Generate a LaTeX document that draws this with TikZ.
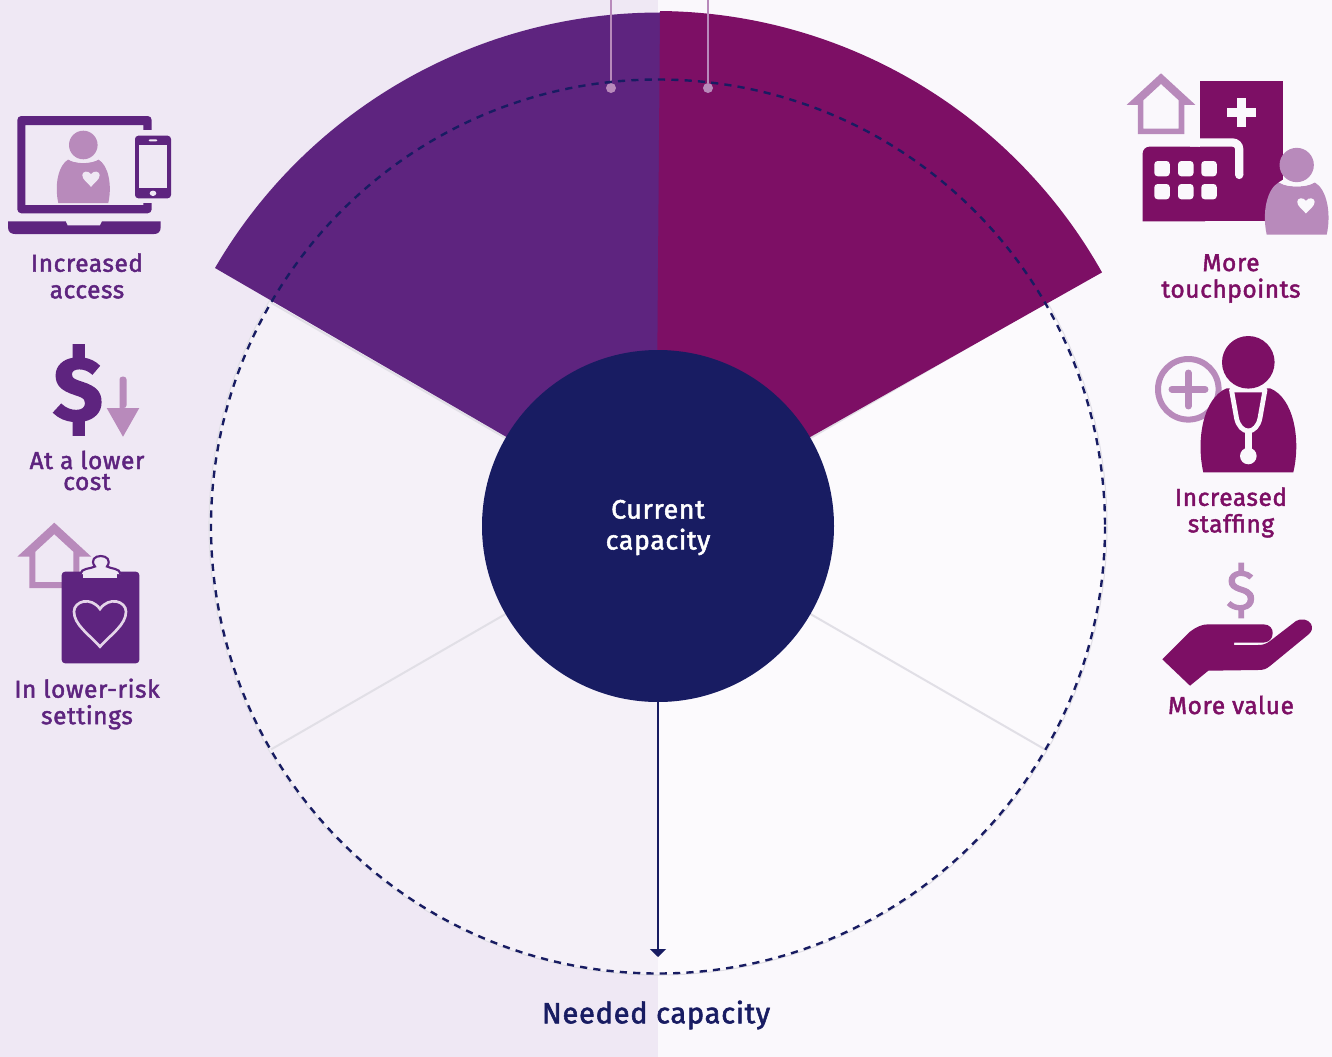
\documentclass[tikz,border=0pt]{standalone}
\usepackage{fontspec}
\setmainfont[RawFeature={embolden=1.9},LetterSpace=2.5]{Fira Sans}
\usetikzlibrary{arrows.meta}

\definecolor{lbg}{HTML}{EFE8F4}
\definecolor{rbg}{HTML}{FAF8FC}
\definecolor{lpurple}{HTML}{5E247F}
\definecolor{rpurple}{HTML}{7D0F65}
\definecolor{pale}{HTML}{B88ABB}
\definecolor{navy}{HTML}{181C62}
\definecolor{spoke}{HTML}{E1DFE6}

\tikzset{
	lefttext/.style={text=lpurple, align=center, font=\fontsize{18.3}{19.9}\selectfont},
	righttext/.style={text=rpurple, align=center, font=\fontsize{18.3}{19.9}\selectfont},
	pics/heart/.style={code={
		\path[pic actions] (0,.95) .. controls (-.45,.45) and (-1,.1) .. (-1,-.4)
			.. controls (-1,-.8) and (-.35,-1) .. (0,-.5)
			.. controls (.35,-1) and (1,-.8) .. (1,-.4)
			.. controls (1,.1) and (.45,.45) .. (0,.95) -- cycle;
	}},
	pics/person/.style={code={
		\fill[pale] (-25,58) .. controls (-29,40) and (-25,20) .. (-15,14.5)
			.. controls (-8,19) and (8,19) .. (15,14.5)
			.. controls (25,20) and (29,40) .. (25,58) -- cycle;
		\fill[#1] (-15,14.5) .. controls (-8,19) and (8,19) .. (15,14.5) -- (0,5) -- cycle;
		\fill[pale] (0,0) circle (14.3);
		\pic[fill=#1, scale=8.7] at (7.7,33.5) {heart};
	}},
	pics/house/.style={code={
		\fill[pale, even odd rule] (0,0) -- (37,34) -- (25,34) -- (25,65.5) -- (-25,65.5) -- (-25,34) -- (-37,34) -- cycle
			(0,11.5) -- (-19,29) -- (-19,59.5) -- (19,59.5) -- (19,29) -- cycle;
	}}
}

\begin{document}
\begin{tikzpicture}[x=0.75pt, y=-0.75pt]
	\useasboundingbox (0,0) rectangle (1332,1057);
	\fill[lbg] (0,0) rectangle (658,1057);
	\fill[rbg] (658,0) rectangle (1332,1057);

	% rings and wedges
	\coordinate (mid) at (658,526);
	\fill[white, opacity=.4] (mid) circle (449);
	\draw[spoke, line width=.8pt] (mid) circle (449);
	\draw[spoke, line width=1.5pt] (mid) -- ++(30:447);
	\draw[spoke, line width=1.5pt] (mid) -- ++(150:447);
	\draw[spoke, line width=1.5pt] (mid) -- ++(210:447);
	\draw[spoke, line width=1.5pt] (mid) -- ++(330:447);
	\draw[spoke, line width=1.5pt] (mid) -- ++(270:447);
	\fill[lpurple] (215,268) arc[start angle=149.8, end angle=90, radius=385.5pt] -- (664,12) -- (664,526) -- (660,526) -- cycle;
	\fill[rpurple] (660,11) arc[start angle=89.5, end angle=29.3, radius=384pt] -- (656,524) -- cycle;

	\coordinate (topa) at (611,0);
	\coordinate (topb) at (708,0);
	\node[circle, fill=pale, inner sep=0pt, minimum size=7.5pt] (dota) at (611,88) {};
	\node[circle, fill=pale, inner sep=0pt, minimum size=7.5pt] (dotb) at (708,88) {};
	\draw[pale, line width=1.8pt] (topa) -- (dota);
	\draw[pale, line width=1.8pt] (topb) -- (dotb);
	\draw[navy, line width=1.8pt, dash pattern=on 5.4pt off 4.6pt] (658,526.5) circle (447);

	\node[circle, fill=navy, inner sep=0pt, minimum size=264pt] (current) at (mid) {};
	\node[text=white, align=center, font=\fontsize{20}{23.2}\selectfont] (currenttext) at (658,527.5) {Current\\capacity};
	\coordinate (tip) at (658,957);
	\draw[navy, line width=1.5pt, -{Triangle[length=6pt, width=12pt]}] (current.south) -- (tip);
	\node[text=navy, font=\fontsize{21.8}{22}\selectfont] (needed) at (656,1015) {Needed capacity};

	% laptop and phone
	\pic at (83.3,145) {person=lbg};
	\fill[lpurple, even odd rule, rounded corners=3pt] (17.3,116) rectangle (151.7,213.3)
		[sharp corners] (25.3,125) rectangle (143.3,205);
	\fill[lbg] (143.3,130) rectangle (162,202.7);
	\fill[lpurple] (8,221.3) -- (65.7,221.3) -- (67.5,225.3) -- (100,225.3) -- (102,221.3) -- (160.7,221.3)
		-- (160.7,227) .. controls (160.7,232) and (158,234) .. (154,234) -- (15,234)
		.. controls (11,234) and (8,232) .. (8,227) -- cycle;
	\fill[lpurple, rounded corners=2.5pt] (135,135.7) rectangle (171,198.3);
	\fill[lbg] (139,145) rectangle (167.3,188.3);
	\fill[lbg, rounded corners=.8pt] (148.7,139.3) rectangle (157.3,141.3);
	\fill[lbg] (153,193.3) ellipse (3.3 and 2.7);
	\node[lefttext] (access) at (87,276) {Increased\\access};

	% dollar and arrow
	\node[text=lpurple, inner sep=0pt, font=\fontsize{68}{68}\selectfont\bfseries] (dollar) at (78,390) {\$};
	\fill[pale, rounded corners=2pt] (119.5,408) -- (119.5,376.7) -- (126.5,376.7) -- (126.5,408) [sharp corners] -- cycle;
	\fill[pale] (106.7,408) -- (139.3,408) -- (123,436.7) -- cycle;
	\node[lefttext, font=\fontsize{18.3}{15.75}\selectfont] (cost) at (87,470.5) {At a lower\\cost};

	% house and clipboard
	\pic at (54.3,522.7) {house};
	\fill[lpurple, rounded corners=2.5pt] (61.7,571.7) rectangle (139.3,663.3);
	\filldraw[lbg, draw=lpurple, line width=1.6pt] (80.5,574) .. controls (81,568) and (90,569) .. (95,566.5)
		.. controls (90,560) and (95,556) .. (100.7,556) .. controls (106.5,556) and (111.5,560) .. (107,566.5)
		.. controls (111,569) and (120,568) .. (120.5,574);
	\fill[lbg] (83.3,571.7) rectangle (117.3,577.7);
	\pic[draw=lbg!80!pale, line width=2pt, scale=26] at (100,622) {heart};
	\node[lefttext] (risk) at (87,704) {In lower-risk\\settings};

	% hospital
	\fill[rpurple] (1200,80.7) rectangle (1283.3,221.3);
	\fill[rpurple, rounded corners=5pt] (1142.7,221.3) -- (1142.7,146.7) -- (1205,146.7) [sharp corners] -- (1205,221.3) -- cycle;
	\draw[rbg, line width=6.2pt, rounded corners=5pt] (1190,142.5) -- (1239.2,142.5) -- (1239.2,175);
	\fill[rbg] (1239.2,175) circle (4.1);
	\foreach \xa in {1154.3,1178,1201.3}
		\foreach \ya in {161,184}
			\fill[rbg, rounded corners=2.5pt] (\xa,\ya) rectangle (\xa+15.5,\ya+15.3);
	\fill[rbg] (1227.4,108) rectangle (1256,117.4);
	\fill[rbg] (1237,98.4) rectangle (1246.4,127);
	\pic[scale=.93] at (1161,73.3) {house};
	\pic[scale=1.2] at (1296.7,165) {person=rbg};
	\node[righttext] (touch) at (1231,278.5) {More\\touchpoints};

	% doctor
	\draw[pale, line width=4.5pt] (1188.3,389.3) circle (30.3);
	\draw[pale, line width=5.2pt, line cap=round] (1172,389.3) -- (1205,389.3);
	\draw[pale, line width=5.2pt, line cap=round] (1188.3,373) -- (1188.3,406);
	\fill[rpurple] (1203.3,472.3) .. controls (1196,440) and (1203,398) .. (1226.7,388.3) -- (1270,388.3)
		.. controls (1294,398) and (1301,440) .. (1293.3,472.3) -- cycle;
	\filldraw[rpurple, draw=rbg, line width=3.6pt, line join=round] (1231.5,390) -- (1236.5,418) .. controls (1238,426) and (1243,431) .. (1248.3,431)
		.. controls (1253.5,431) and (1258.5,426) .. (1260,418) -- (1265,390) -- cycle;
	\draw[rbg, line width=5pt] (1248.3,431) -- (1248.3,450);
	\fill[rbg] (1248.3,456) circle (8.3);
	\fill[rpurple] (1248.3,362.3) circle (26.3);
	\node[righttext] (staff) at (1231,512.5) {Increased\\staffing};

	% hand
	\node[text=pale, inner sep=0pt, font=\fontsize{42}{42}\selectfont] (coin) at (1241,590.5) {\$};
	\fill[rpurple] (1162.3,659.3) -- (1190,631.7) .. controls (1196,627) and (1202,624.3) .. (1208.3,624.3) -- (1263.3,624.3)
		.. controls (1270,624.3) and (1273,629) .. (1272.7,633.3) .. controls (1272.5,639) and (1269,642) .. (1264,642.5)
		-- (1234,642.5) -- (1234,645) -- (1258,645) .. controls (1263,645) and (1266,644) .. (1270,641) -- (1296,621)
		.. controls (1301,618) and (1308,619) .. (1311,624) .. controls (1313,628) and (1312,631) .. (1309,634)
		-- (1270,666) .. controls (1266,669) and (1264,670) .. (1258,670) -- (1208.3,670.7) -- (1190,685.7) -- cycle;
	\node[righttext] (value) at (1231,705) {More value};
\end{tikzpicture}
\end{document}
